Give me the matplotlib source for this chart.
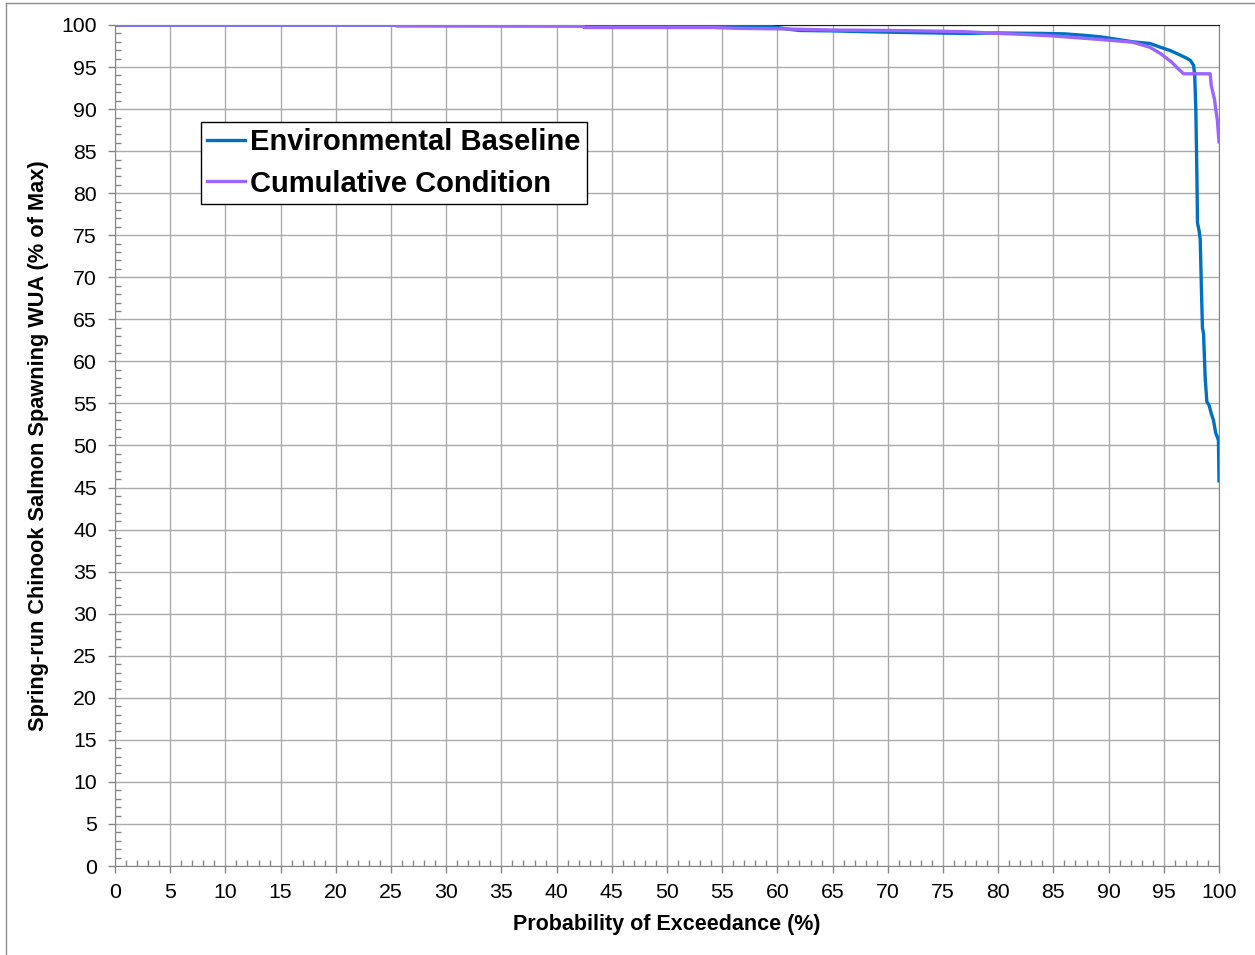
import matplotlib.pyplot as plt
from matplotlib.lines import Line2D
from matplotlib.ticker import MultipleLocator

plt.rcParams['font.family'] = ['Liberation Sans', 'DejaVu Sans']

# exceedance curves: probability of exceedance (%) vs WUA (% of max)
base_x = [0, 35, 54, 56, 59.5, 61, 62, 65, 68, 72, 77, 80, 84, 86, 88, 89.2,
          90.5, 92.2, 93.75, 94.7, 95.5, 96.2, 97.0, 97.4, 97.7, 97.8, 97.9,
          98.0, 98.05, 98.2, 98.3, 98.4, 98.5, 98.6, 98.75, 98.9, 99.1, 99.3,
          99.5, 99.7, 99.85, 99.95, 100]
base_y = [100, 100, 99.95, 99.85, 99.8, 99.5, 99.35, 99.3, 99.2, 99.1, 99.0,
          99.05, 99.0, 98.95, 98.75, 98.6, 98.35, 98.0, 97.8, 97.35, 97.0,
          96.6, 96.1, 95.8, 95.2, 94.0, 90.0, 82.0, 76.5, 75.5, 74.5, 69.0,
          64.0, 63.3, 58.0, 55.2, 54.8, 53.8, 53.0, 51.5, 51.0, 50.6, 45.8]

cum_x = [0, 25.4, 25.5, 42.4, 42.5, 54.2, 56.3, 60, 65, 70, 73, 77, 80, 82,
         85, 88, 90, 92.2, 93.75, 94.7, 95.2, 95.7, 96.3, 96.8, 99.2, 99.3,
         99.6, 99.7, 99.85, 100]
cum_y = [100, 100, 99.88, 99.85, 99.7, 99.7, 99.6, 99.55, 99.4, 99.35, 99.3,
         99.2, 99.0, 98.9, 98.7, 98.4, 98.2, 97.95, 97.35, 96.6, 96.1, 95.6,
         94.8, 94.2, 94.2, 92.8, 91.1, 90.0, 88.7, 86.1]

fig = plt.figure(figsize=(12.55, 9.55), dpi=100)
ax = fig.add_axes([115 / 1255, 1 - 866 / 955, 1104 / 1255, 841 / 955])

ax.plot(base_x, base_y, color='#0070C0', lw=2.4, label='Environmental Baseline', zorder=3)
ax.plot(cum_x, cum_y, color='#9966FF', lw=2.4, label='Cumulative Condition', zorder=4)

ax.set_xlim(0, 100)
ax.set_ylim(0, 100)
ax.xaxis.set_major_locator(MultipleLocator(5))
ax.yaxis.set_major_locator(MultipleLocator(5))
ax.xaxis.set_minor_locator(MultipleLocator(1))
ax.yaxis.set_minor_locator(MultipleLocator(1))
ax.tick_params(which='major', direction='out', length=5, width=1, color='#868686',
               labelsize=15.3, pad=7)
ax.tick_params(axis='y', which='major', pad=8)
ax.tick_params(which='minor', direction='in', length=4, width=1, color='#868686')
ax.grid(which='major', color='#ABABAB', lw=1, zorder=0)
ax.set_axisbelow(True)

for side in ['left', 'bottom']:
    ax.spines[side].set_color('#868686')
ax.spines['top'].set_color('#202020')
ax.spines['right'].set_color('#868686')

ax.set_xlabel('Probability of Exceedance (%)', fontsize=15.5, fontweight='bold', labelpad=9)
ax.set_ylabel('Spring-run Chinook Salmon Spawning WUA (% of Max)', fontsize=15.7,
              fontweight='bold', labelpad=9)

leg = ax.legend(loc='upper left', bbox_to_anchor=(201 / 1255, 1 - 122 / 955),
                bbox_transform=fig.transFigure, borderaxespad=0, fancybox=False,
                framealpha=1, edgecolor='black', handlelength=1.3, handletextpad=0.15,
                labelspacing=0.45, borderpad=0.22, prop={'weight': 'bold', 'size': 21})
leg.get_frame().set_linewidth(1)

# outer chart border
fig.add_artist(Line2D([6 / 1255, 6 / 1255], [0, 1 - 3 / 955], color='#8C8C8C', lw=1,
                      transform=fig.transFigure))
fig.add_artist(Line2D([6 / 1255, 1], [1 - 3 / 955, 1 - 3 / 955], color='#8C8C8C', lw=1,
                      transform=fig.transFigure))

fig.savefig('out.png', dpi=100)
